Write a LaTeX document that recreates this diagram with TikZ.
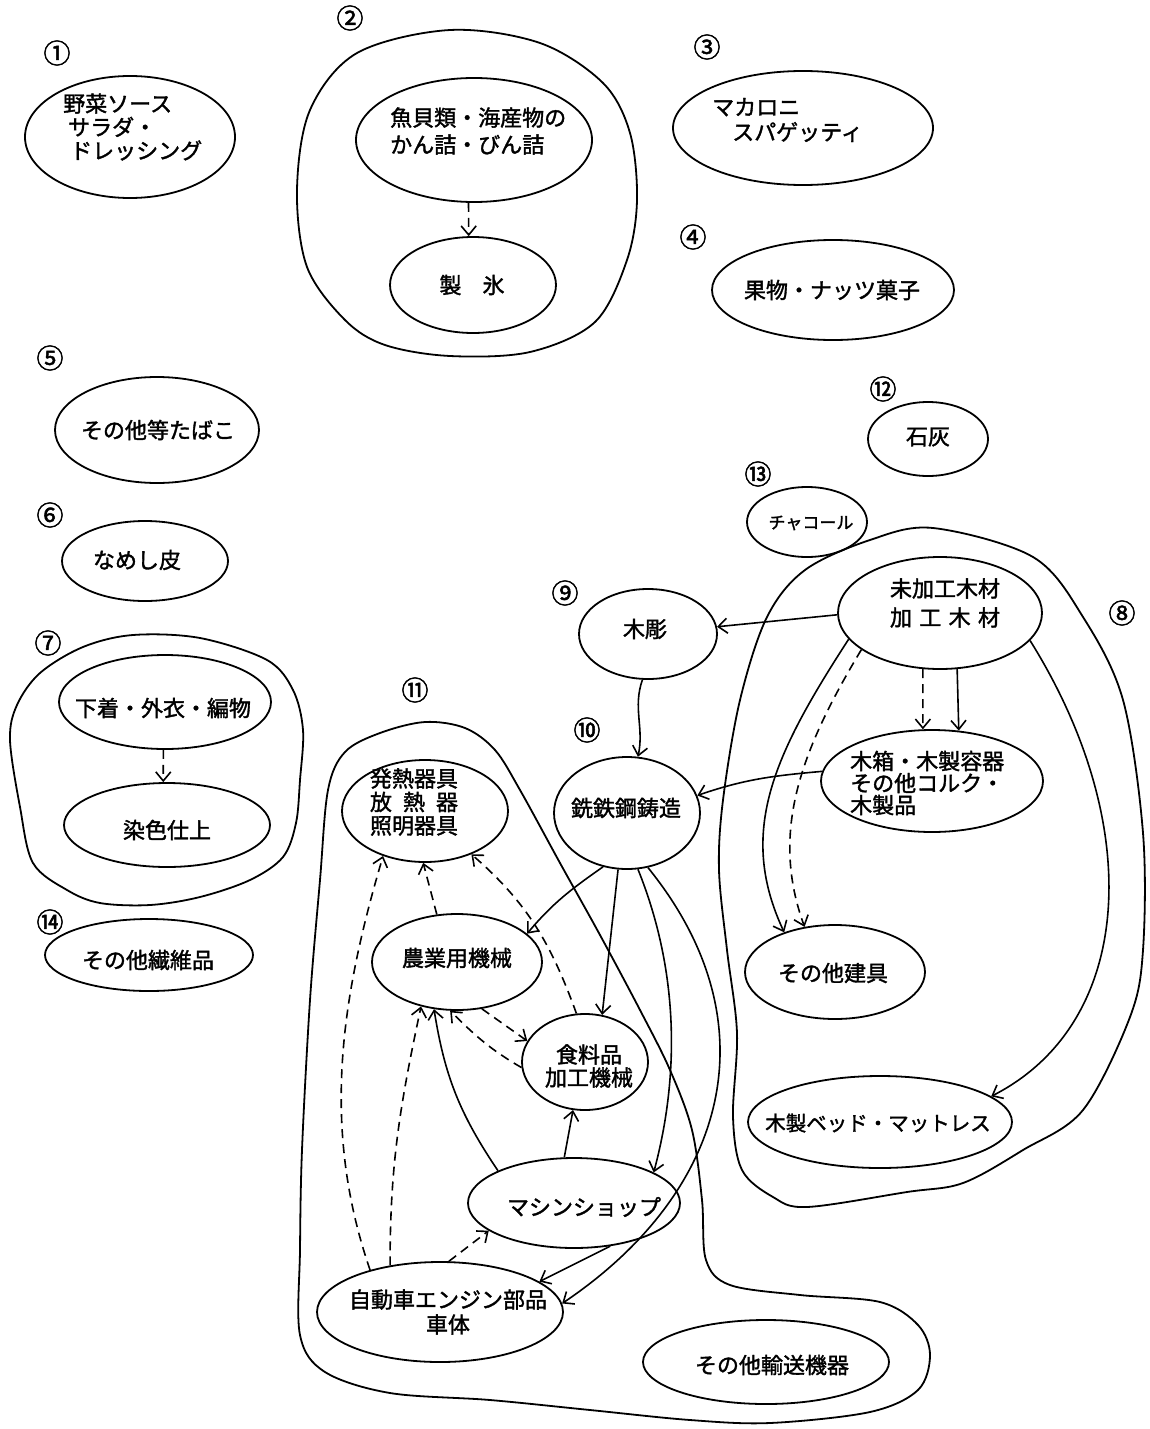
\documentclass[tikz,border=0pt]{standalone}
\usepackage{fontspec}
\newfontfamily\jp[FakeBold=1.6]{Noto Sans CJK JP}
\newfontfamily\jpnum[FakeBold=1.8]{Noto Sans CJK JP}
\usetikzlibrary{shapes.geometric,arrows.meta}
\begin{document}
\begin{tikzpicture}[x=1pt,y=-1pt,
  blob/.style={draw, ellipse, line width=1.8pt, inner sep=0pt},
  ell/.style 2 args={blob, minimum width=#1, minimum height=#2},
  lbl/.style={font=\jp\fontsize{22}{24}\selectfont, inner sep=0pt},
  num/.style={font=\jpnum\fontsize{27}{27}\selectfont, inner sep=0pt},
  grp/.style={line width=1.8pt, smooth cycle, tension=0.55},
  link/.style={line width=1.6pt, -{Straight Barb[length=9pt,width=15pt]}},
  dlink/.style={link, dash pattern=on 9pt off 6pt}]
\fill[white] (0,0) rectangle (1149,1429);
\useasboundingbox (0,0) rectangle (1149,1429);

% ---- enclosing groups ----
\draw[grp] plot coordinates {(450,30) (540,43) (603,83) (630,133) (637,200) (627,260) (595,322) (530,352) (450,356) (385,345) (345,320) (307,267) (297,190) (310,110) (357,53)};
\draw[grp] plot coordinates {(133,635) (200,638) (267,660) (293,690) (303,730) (300,780) (296,823) (283,857) (250,880) (200,897) (150,905) (100,903) (67,890) (33,863) (20,807) (10,740) (17,705) (40,673) (83,647)};
\draw[grp] plot coordinates {(933,528) (1033,557) (1083,617) (1123,700) (1143,833) (1143,950) (1130,1017) (1083,1110) (1023,1150) (963,1183) (907,1192) (807,1207) (773,1197) (742,1170) (733,1117) (737,1033) (727,950) (719,870) (723,800) (740,700) (767,617) (805,570) (870,540)};
\draw[grp] plot coordinates {(328,790) (345,752) (380,733) (425,722) (465,728) (495,750) (520,790) (560,863) (600,935) (640,1010) (670,1070) (692,1130) (702,1200) (706,1260) (730,1285) (800,1295) (880,1302) (918,1325) (930,1355) (918,1390) (870,1412) (770,1423) (690,1420) (590,1410) (490,1400) (390,1393) (325,1372) (300,1335) (300,1250) (302,1150) (310,1000) (320,880)};

% ---- ellipses ----
\node[ell={210pt}{122pt}] (yasai) at (130,137) {};
\node[ell={236pt}{124pt}] (gyokai) at (474,140) {};
\node[ell={166pt}{96pt}] (seihyo) at (473,285) {};
\node[ell={260pt}{114pt}] (makaroni) at (803,128) {};
\node[ell={242pt}{100pt}] (kudamono) at (833,290) {};
\node[ell={204pt}{106pt}] (tabako) at (157,430) {};
\node[ell={166pt}{80pt}] (namesi) at (145,561) {};
\node[ell={212pt}{94pt}] (shitagi) at (165,702) {};
\node[ell={206pt}{84pt}] (senshoku) at (167,825) {};
\node[ell={208pt}{72pt}] (seni) at (149,955) {};
\node[ell={120pt}{74pt}] (sekkai) at (928,439) {};
\node[ell={120pt}{70pt}] (chaco) at (807,522) {};
\node[ell={138pt}{90pt}] (mokucho) at (648,634) {};
\node[ell={146pt}{112pt}] (sentetsu) at (627,813) {};
\node[ell={204pt}{112pt}] (mikako) at (940,613) {};
\node[ell={222pt}{102pt}] (kibako) at (932,781) {};
\node[ell={180pt}{94pt}] (tategu) at (835,972) {};
\node[ell={264pt}{92pt}] (bed) at (880,1122) {};
\node[ell={166pt}{102pt}] (hatsunetsu) at (425,811) {};
\node[ell={170pt}{96pt}] (nogyo) at (457,962) {};
\node[ell={126pt}{96pt}] (shokuryo) at (585,1062) {};
\node[ell={212pt}{90pt}] (machine) at (574,1203) {};
\node[ell={246pt}{100pt}] (jidosha) at (440,1312) {};
\node[ell={246pt}{84pt}] (yuso) at (766,1362) {};

% ---- texts ----
\node[lbl, anchor=west, align=left, font=\jp\fontsize{22}{23.5}\selectfont] (yasai-t) at (63,127) {野菜ソース\\\hspace*{5pt}サラダ・\\\hspace*{7pt}ドレッシング};
\node[lbl, anchor=west, align=left, font=\jp\fontsize{22}{27}\selectfont] (gyokai-t) at (390,131) {魚貝類・海産物の\\かん詰・びん詰};
\node[lbl] (seihyo-t) at (472,285) {製\hspace{21pt}氷};
\node[lbl, anchor=west, align=left, font=\jp\fontsize{22}{25}\selectfont] (makaroni-t) at (712,120) {マカロニ\\\hspace*{20pt}スパゲッティ};
\node[lbl] (kudamono-t) at (832,290) {果物・ナッツ菓子};
\node[lbl] (tabako-t) at (158,430) {その他等たばこ};
\node[lbl] (namesi-t) at (137,560) {なめし皮};
\node[lbl] (shitagi-t) at (163,708) {下着・外衣・編物};
\node[lbl] (senshoku-t) at (167,830) {染色仕上};
\node[lbl] (seni-t) at (148,960) {その他繊維品};
\node[lbl] (sekkai-t) at (928,437) {石灰};
\node[lbl, font=\jp\fontsize{17}{19}\selectfont] (chaco-t) at (811,523) {チャコール};
\node[lbl] (mokucho-t) at (645,629) {木彫};
\node[lbl] (sentetsu-t) at (626,808) {銑鉄鋼鋳造};
\node[lbl, align=center, font=\jp\fontsize{22}{29}\selectfont] (mikako-t) at (945,603) {未加工木材\\\makebox[110pt][s]{加\hfill 工\hfill 木\hfill 材}};
\node[lbl, anchor=west, align=left, font=\jp\fontsize{22}{22}\selectfont] (kibako-t) at (850,783) {木箱・木製容器\\その他コルク・\\木製品};
\node[lbl] (tategu-t) at (833,973) {その他建具};
\node[lbl, font=\jp\fontsize{20.5}{22}\selectfont] (bed-t) at (878,1123) {木製ベッド・マットレス};
\node[lbl, align=center, font=\jp\fontsize{22}{23.5}\selectfont] (hatsunetsu-t) at (414,802) {発熱器具\\\makebox[88pt][s]{放\hfill 熱\hfill 器}\\照明器具};
\node[lbl] (nogyo-t) at (457,958) {農業用機械};
\node[lbl, align=center, font=\jp\fontsize{22}{23}\selectfont] (shokuryo-t) at (589,1066) {食料品\\加工機械};
\node[lbl] (machine-t) at (584,1207) {マシンショップ};
\node[lbl, align=center, font=\jp\fontsize{22}{25}\selectfont] (jidosha-t) at (448,1312) {自動車エンジン部品\\車体};
\node[lbl] (yuso-t) at (772,1365) {その他輸送機器};

% ---- group numbers ----
\node[num] (n1) at (57,53) {①};
\node[num] (n2) at (350,18) {②};
\node[num] (n3) at (707,47) {③};
\node[num] (n4) at (693,237) {④};
\node[num] (n5) at (50,358) {⑤};
\node[num] (n6) at (50,515) {⑥};
\node[num] (n7) at (48,643) {⑦};
\node[num] (n8) at (1122,613) {⑧};
\node[num] (n9) at (565,593) {⑨};
\node[num] (n10) at (587,730) {⑩};
\node[num] (n11) at (415,690) {⑪};
\node[num] (n12) at (883,389) {⑫};
\node[num] (n13) at (758,474) {⑬};
\node[num] (n14) at (50,922) {⑭};

% ---- connectors ----
\draw[dlink] (gyokai.265) -- (seihyo.95);
\draw[dlink] (shitagi.268) -- (senshoku.95);

\draw[link] (mikako.181) -- (mokucho.6);
\draw[link] (mokucho.263) to[out=251,in=78] (sentetsu.79);
\draw[dlink] (mikako.253) -- (kibako.100);
\draw[link] (mikako.287) -- (kibako.62);
\draw[link] (kibako.175) to[out=185,in=19] (sentetsu.14);
\draw[link] (mikako.196) .. controls +(237:140pt) and +(115:110pt) .. (tategu.142);
\draw[dlink] (mikako.205) .. controls +(239:120pt) and +(110:100pt) .. (tategu.124);
\draw[link] (mikako.343) .. controls +(302:220pt) and +(27:160pt) .. (bed.13);

\draw[link] (sentetsu.246) to[out=215,in=50] (nogyo.22);
\draw[link] (sentetsu.261) -- (shokuryo.70);
\draw[link] (sentetsu.281) .. controls +(292:110pt) and +(75:100pt) .. (machine.21);
\draw[link] (sentetsu.291) .. controls +(309:200pt) and +(34:200pt) .. (jidosha.4);

\draw[link] (machine.102) -- (shokuryo.256);
\draw[link] (machine.157) to[out=124,in=279] (nogyo.244);
\draw[dlink] (jidosha.80) -- (machine.198);
\draw[link] (machine.310) -- (jidosha.17);
\draw[dlink] (jidosha.137) to[out=90,in=258] (nogyo.231);
\draw[dlink] (jidosha.149) .. controls +(109:150pt) and +(253.5:150pt) .. (hatsunetsu.227);
\draw[dlink] (nogyo.113) -- (hatsunetsu.268);
\draw[dlink] (shokuryo.100) to[out=110,in=319] (hatsunetsu.317);
\draw[dlink] (nogyo.298) -- (shokuryo.160);
\draw[dlink] (shokuryo.185) to[out=150,in=315] (nogyo.262);
\end{tikzpicture}
\end{document}
